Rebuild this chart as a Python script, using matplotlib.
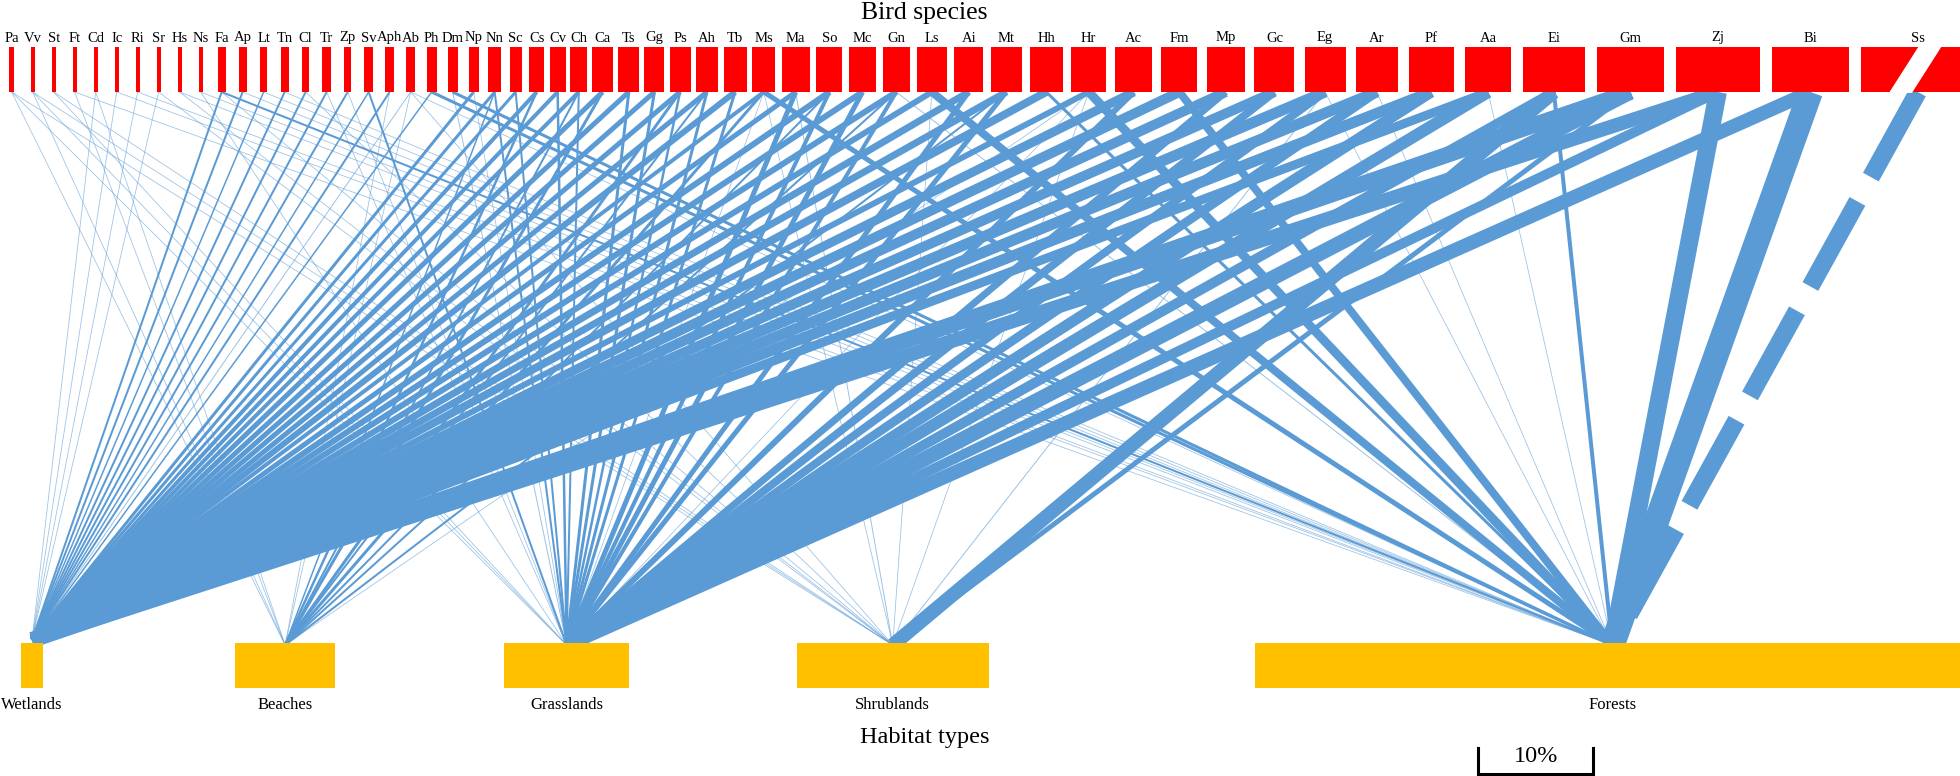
import matplotlib
matplotlib.use("Agg")
import matplotlib.pyplot as plt
from matplotlib.patches import Rectangle, Polygon

plt.rcParams['font.family'] = ['Liberation Serif', 'DejaVu Serif']
plt.rcParams['lines.scale_dashes'] = False

# ---- data ----
species = ["Pa", "Vv", "St", "Ft", "Cd", "Ic", "Ri", "Sr", "Hs", "Ns",
           "Fa", "Ap", "Lt", "Tn", "Cl", "Tr", "Zp", "Sv", "Aph", "Ab",
           "Ph", "Dm", "Np", "Nn", "Sc", "Cs", "Cv", "Ch", "Ca", "Ts",
           "Gg", "Ps", "Ah", "Tb", "Ms", "Ma", "So", "Mc", "Gn", "Ls",
           "Ai", "Mt", "Hh", "Hr", "Ac", "Fm", "Mp", "Gc", "Eg", "Ar",
           "Pf", "Aa", "Ei", "Gm", "Zj", "Bi", "Ss"]
# relative abundance of each bird species (bar width)
abundance = [4.7, 4, 4, 4, 4, 4, 4, 4, 4, 4,
             8, 8, 7, 8, 7, 9, 7, 9, 9, 9,
             10, 10, 10, 13, 12, 15, 16, 17, 21, 21,
             20, 21, 22, 23, 23, 28, 26, 27, 27, 30,
             29, 31, 33, 35, 37, 36, 38, 40, 41, 42,
             45, 46, 62, 67, 84, 77, 114]

habitats = ["Wetlands", "Beaches", "Grasslands", "Shrublands", "Forests"]
habitat_pct = [1.9, 8.7, 10.8, 16.6, 62.0]

# interaction strength species -> habitat (one list per habitat)
to_wetlands = [0, 0, 0, 0, 0.8, 0.8, 0.8, 0.8, 0, 0,
               2, 2, 1.5, 2, 2, 2, 2, 1.5, 2, 1,
               1.5, 0, 3, 3, 3, 4, 4, 4, 5, 5,
               5, 5, 5, 6, 4, 5, 6, 6, 6, 6,
               7, 7, 8, 6, 9, 10, 10, 10, 11, 11,
               11, 9, 0, 16, 14, 0, 0]
to_beaches = [0.8, 0.8, 0, 0.8, 0.8, 0, 0, 0, 0, 0,
              0, 0, 0, 0, 0, 0, 0, 0, 0.8, 0.8,
              0, 0, 0, 1.5, 0, 2.5, 0, 2, 3, 0,
              0, 3, 2, 0, 3, 0, 2, 0, 2, 0,
              0, 2, 0, 0.8, 0, 0, 0, 0, 0, 0,
              0, 0, 0, 0, 0, 0, 0]
to_grasslands = [0.8, 0.8, 0.8, 0, 0, 0, 0, 0, 0, 0.8,
                 0, 0, 0, 0, 0, 0.8, 0.8, 2, 0, 0,
                 0, 1, 0.8, 2, 2, 0, 2.5, 2, 0, 3,
                 3, 2.5, 3, 3, 0.8, 5, 4, 5, 4, 0,
                 5, 5, 0, 0.8, 6, 0, 7, 8, 8, 9,
                 11, 12, 10, 15, 10, 14, 0]
to_shrublands = [0.8, 0.8, 0.8, 0, 0, 0, 0, 0.8, 0.8, 0,
                 0.8, 0, 0, 0, 0.8, 0, 0, 0, 0, 0.8,
                 0, 0, 0, 0, 0, 0, 0, 0, 0, 0,
                 0, 0, 0, 0, 0.8, 1, 0, 0, 0, 0.8,
                 0, 0, 0, 0.8, 0, 0, 0, 0, 1, 0,
                 0, 0, 14, 5, 0, 0, 0]
to_forests = [0, 0, 0, 0.8, 0, 0.8, 0.8, 0, 0.8, 0.8,
              2, 0.8, 0.8, 0.8, 0, 0, 0, 0, 0, 0.8,
              3, 3, 0, 0, 0, 0, 0, 0, 0, 0,
              0, 0, 0, 0, 5, 0, 0, 0, 1, 8,
              0, 0, 3, 9, 0, 8, 0, 0, 0.8, 0.8,
              0, 0.8, 4, 0, 18, 25, 18]
broken_species = ["Ss"]  # bar truncated, link drawn dashed

# ---- layout (pixel units of the figure) ----
W, H = 1960, 776
top_y0, top_y1 = 47, 92
low_y0, low_y1 = 643, 688
hab_px_per_pct = 11.54
hab_left0 = 21
hab_gaps = [192, 169, 168, 266]

fig = plt.figure(figsize=(W / 100, H / 100), dpi=100)
ax = fig.add_axes([0, 0, 1, 1])
ax.set_xlim(0, W)
ax.set_ylim(H, 0)
ax.axis("off")


def slot_width(w):
    # each bar gets a slot wide enough for its label
    return max(21, w + min(w / 4, 12))


sp_centers = []
for i, w in enumerate(abundance):
    if i == 0:
        sp_centers.append(9.3 + w / 2)
    else:
        step = (slot_width(abundance[i - 1]) + slot_width(w)) / 2
        sp_centers.append(sp_centers[-1] + step)

hab_centers = []
left = hab_left0
for j, p in enumerate(habitat_pct):
    w = p * hab_px_per_pct
    hab_centers.append(left + w / 2)
    ax.add_patch(Rectangle((left, low_y0), w, low_y1 - low_y0,
                           facecolor="#FFC000", edgecolor="none", zorder=3))
    ax.text(left + w / 2, 705, habitats[j], ha="center", va="center",
            fontsize=12, zorder=4)
    if j < len(hab_gaps):
        left += w + hab_gaps[j]

# links
blue = "#5B9BD5"
link_lists = [to_wetlands, to_beaches, to_grasslands, to_shrublands, to_forests]
for j, vals in enumerate(link_lists):
    hx = hab_centers[j]
    hy = 640 if j == 0 else 645
    for i, v in enumerate(vals):
        if v <= 0:
            continue
        sx = sp_centers[i]
        if species[i] in broken_species:
            ax.plot([sx, hx], [top_y1, hy], color=blue, lw=v * 0.72,
                    solid_capstyle="butt", dash_capstyle="butt",
                    dashes=(70, 20), zorder=1)
        else:
            ax.plot([sx, hx], [top_y1, hy], color=blue, lw=v * 0.72,
                    solid_capstyle="butt", alpha=1.0 if v > 1 else 0.6,
                    zorder=1)

# species bars
for i, w in enumerate(abundance):
    cx = sp_centers[i]
    ax.add_patch(Rectangle((cx - w / 2, top_y0), w, top_y1 - top_y0,
                           facecolor="#FF0000", edgecolor="none", zorder=3))
    ax.text(cx, 38, species[i], ha="center", va="center", fontsize=10.5,
            zorder=4)
    if species[i] in broken_species:
        bx = cx - w / 2 + 28
        ax.add_patch(Polygon([(bx, top_y1 + 1), (bx + 23, top_y1 + 1),
                              (bx + 53, top_y0 - 1), (bx + 30, top_y0 - 1)],
                             closed=True, facecolor="white",
                             edgecolor="none", zorder=3.5))

ax.text(924, 13, "Bird species", ha="center", va="center", fontsize=18.5)
ax.text(925, 738, "Habitat types", ha="center", va="center", fontsize=17.5)

# scale bar 10%
sb_x0 = 1478
sb_x1 = sb_x0 + 10 * hab_px_per_pct
ax.plot([sb_x0, sb_x0, sb_x1, sb_x1], [748, 774, 774, 748], color="black",
        lw=2.2, solid_joinstyle="miter")
ax.text((sb_x0 + sb_x1) / 2, 757, "10%", ha="center", va="center",
        fontsize=17.5)

fig.savefig("out.png", dpi=100)
